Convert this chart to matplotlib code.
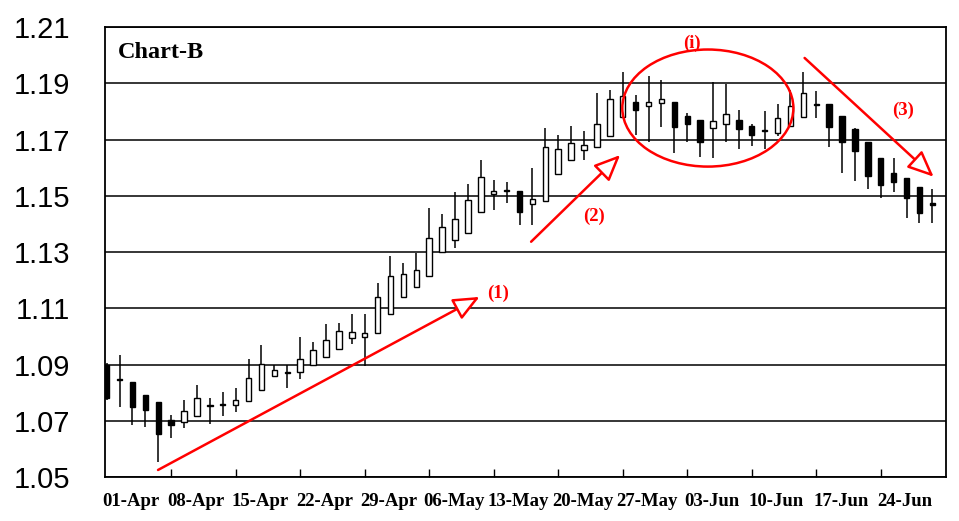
import matplotlib.pyplot as plt
from matplotlib.patches import Ellipse

# OHLC values for 65 trading days, 01-Apr .. 28-Jun
opens = [1.0900, 1.0849, 1.0840, 1.0793, 1.0769, 1.0704, 1.0697, 1.0718, 1.0756, 1.0760,
         1.0758, 1.0772, 1.0811, 1.0861, 1.0874, 1.0875, 1.0900, 1.0928, 1.0957, 1.0996,
         1.1000, 1.1014, 1.1082, 1.1139, 1.1175, 1.1214, 1.1300, 1.1342, 1.1367, 1.1441,
         1.1506, 1.1521, 1.1519, 1.1472, 1.1482, 1.1578, 1.1626, 1.1662, 1.1672, 1.1711,
         1.1779, 1.1832, 1.1818, 1.1829, 1.1832, 1.1782, 1.1771, 1.1740, 1.1754, 1.1771,
         1.1750, 1.1735, 1.1722, 1.1747, 1.1779, 1.1827, 1.1825, 1.1782, 1.1736, 1.1693,
         1.1633, 1.1580, 1.1562, 1.1530, 1.1476]
highs = [1.0905, 1.0936, 1.0840, 1.0793, 1.0769, 1.0722, 1.0775, 1.0829, 1.0783, 1.0804,
         1.0818, 1.0921, 1.0971, 1.0900, 1.0900, 1.1000, 1.0982, 1.1046, 1.1050, 1.1082,
         1.1082, 1.1189, 1.1285, 1.1260, 1.1296, 1.1457, 1.1435, 1.1514, 1.1541, 1.1627,
         1.1555, 1.1548, 1.1519, 1.1600, 1.1742, 1.1717, 1.1749, 1.1730, 1.1865, 1.1875,
         1.1940, 1.1860, 1.1925, 1.1911, 1.1832, 1.1793, 1.1771, 1.1904, 1.1897, 1.1804,
         1.1754, 1.1800, 1.1825, 1.1875, 1.1940, 1.1872, 1.1825, 1.1782, 1.1740, 1.1693,
         1.1633, 1.1633, 1.1562, 1.1530, 1.1526]
lows = [1.0775, 1.0750, 1.0686, 1.0680, 1.0555, 1.0640, 1.0676, 1.0718, 1.0690, 1.0718,
        1.0733, 1.0772, 1.0811, 1.0861, 1.0818, 1.0850, 1.0900, 1.0928, 1.0957, 1.0975,
        1.0896, 1.1014, 1.1082, 1.1139, 1.1175, 1.1214, 1.1300, 1.1314, 1.1367, 1.1441,
        1.1448, 1.1476, 1.1395, 1.1398, 1.1482, 1.1578, 1.1626, 1.1626, 1.1672, 1.1711,
        1.1779, 1.1715, 1.1690, 1.1743, 1.1654, 1.1690, 1.1637, 1.1633, 1.1690, 1.1665,
        1.1676, 1.1665, 1.1711, 1.1747, 1.1779, 1.1776, 1.1672, 1.1583, 1.1554, 1.1526,
        1.1494, 1.1515, 1.1420, 1.1405, 1.1405]
closes = [1.0782, 1.0845, 1.0750, 1.0740, 1.0655, 1.0686, 1.0736, 1.0783, 1.0752, 1.0756,
          1.0775, 1.0854, 1.0904, 1.0882, 1.0870, 1.0921, 1.0953, 1.0989, 1.1021, 1.1018,
          1.1014, 1.1139, 1.1214, 1.1221, 1.1236, 1.1349, 1.1389, 1.1417, 1.1484, 1.1566,
          1.1516, 1.1517, 1.1441, 1.1490, 1.1674, 1.1667, 1.1687, 1.1680, 1.1754, 1.1843,
          1.1854, 1.1804, 1.1832, 1.1843, 1.1743, 1.1754, 1.1690, 1.1765, 1.1790, 1.1736,
          1.1718, 1.1731, 1.1775, 1.1818, 1.1864, 1.1823, 1.1743, 1.1693, 1.1658, 1.1569,
          1.1537, 1.1548, 1.1491, 1.1438, 1.1469]

week_labels = ["01-Apr", "08-Apr", "15-Apr", "22-Apr", "29-Apr", "06-May", "13-May",
               "20-May", "27-May", "03-Jun", "10-Jun", "17-Jun", "24-Jun"]
y_levels = [1.05, 1.07, 1.09, 1.11, 1.13, 1.15, 1.17, 1.19, 1.21]

W, H = 959, 521
fig = plt.figure(figsize=(W / 100, H / 100), dpi=100)
ax = fig.add_axes([105 / W, 1 - 477.3 / H, (946 - 105) / W, (477.3 - 27) / H])

x = list(range(len(opens)))
ax.vlines(x, lows, highs, color="black", lw=1.1, zorder=2)
bottoms = [min(o, c) for o, c in zip(opens, closes)]
heights = [max(abs(c - o), 0.0002) for o, c in zip(opens, closes)]
colors = ["white" if c > o else "black" for o, c in zip(opens, closes)]
ax.bar(x, heights, bottom=bottoms, width=0.42, color=colors,
       edgecolor="black", lw=1.0, zorder=3)

ax.set_xlim(-0.13, 65.06)
ax.set_ylim(1.05, 1.21)

ax.set_yticks(y_levels)
ax.set_yticklabels([f"{v:.2f}" for v in y_levels], fontfamily="Liberation Sans")
ax.tick_params(axis="y", length=0, pad=25, labelsize=21)
ax.yaxis.grid(True, color="black", lw=1.1)
ax.set_axisbelow(True)

serif = "Liberation Serif"
ax.set_xticks([5 * k + 1.9 for k in range(len(week_labels))])
ax.set_xticklabels(week_labels, fontfamily=serif, fontweight="bold", fontsize=13.5)
ax.tick_params(axis="x", which="major", length=0, pad=11)
ax.set_xticks([5 * k for k in range(1, 13)], minor=True)
ax.tick_params(axis="x", which="minor", direction="in", length=6, width=1)

for s in ax.spines.values():
    s.set_linewidth(1.3)

ax.text(0.9, 1.2011, "Chart-B", fontfamily=serif, fontweight="bold",
        fontsize=17.5, ha="left", va="center")

# red annotations
red = "red"
arrows = [((3.98, 1.0526), (28.9, 1.1141)),
          ((32.9, 1.1337), (39.8, 1.1645)),
          ((54.1, 1.1990), (64.1, 1.1568))]
for start, end in arrows:
    ax.annotate("", xy=end, xytext=start,
                arrowprops=dict(arrowstyle="-|>,head_length=0.8,head_width=0.35",
                                fc="white", ec=red, lw=1.8,
                                shrinkA=0, shrinkB=0, mutation_scale=20),
                zorder=5)

ax.add_patch(Ellipse((46.6, 1.1812), 13.26, 0.0416, fill=False,
                     ec=red, lw=1.8, zorder=5))

marks = [("(1)", 30.3, 1.1155), ("(2)", 37.8, 1.1426),
         ("(i)", 45.4, 1.2043), ("(3)", 61.7, 1.1805)]
for t, tx, ty in marks:
    ax.text(tx, ty, t, color=red, fontfamily=serif, fontweight="bold",
            fontsize=13.5, ha="center", va="center", zorder=6)

fig.savefig("out.png", dpi=100)
